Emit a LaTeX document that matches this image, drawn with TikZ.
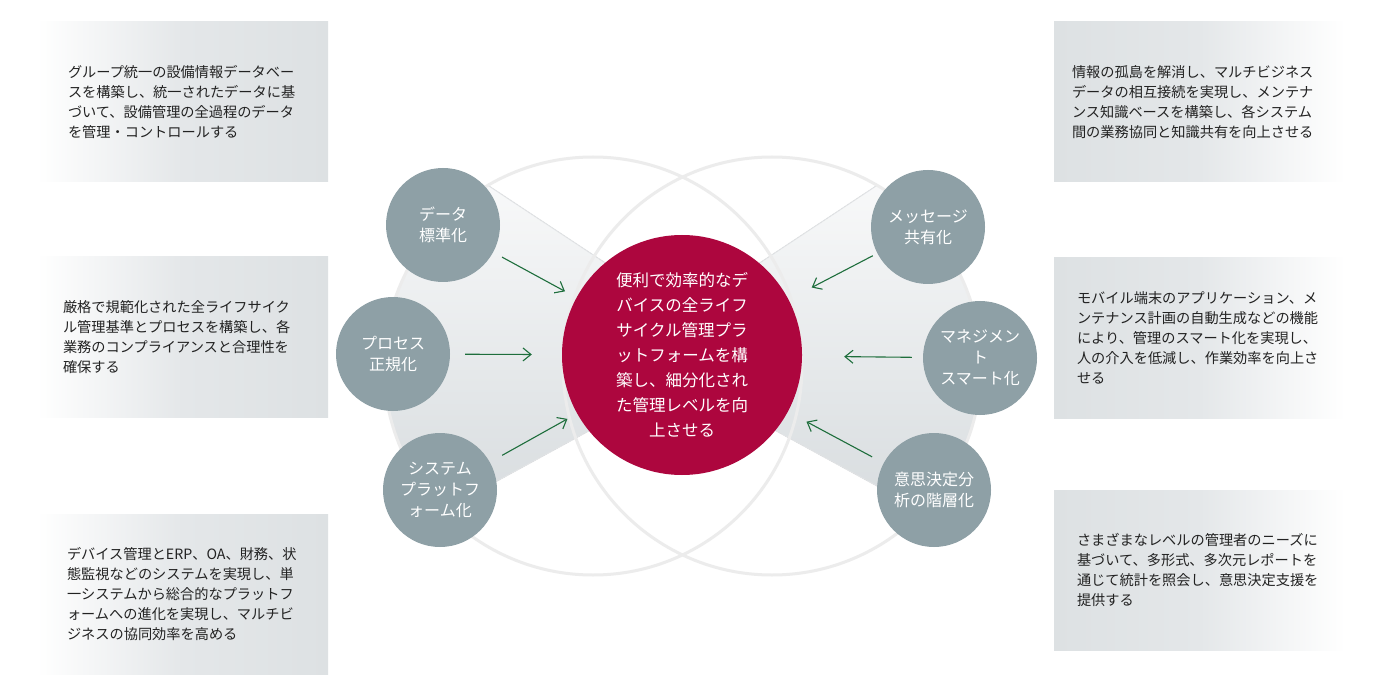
\documentclass[tikz,border=0pt]{standalone}
\usepackage{fontspec}
\setmainfont{Noto Sans CJK JP}
\usetikzlibrary{arrows.meta}
\definecolor{crimson}{RGB}{173,6,62}
\definecolor{circgray}{RGB}{142,160,166}
\definecolor{ringgray}{RGB}{236,236,236}
\definecolor{arrowgreen}{RGB}{30,110,60}
\definecolor{boxgray}{RGB}{221,225,227}
\definecolor{boxmid}{RGB}{228,231,233}
\definecolor{fanbottom}{RGB}{212,217,220}
\definecolor{fanedge}{RGB}{226,228,230}
\definecolor{textdark}{RGB}{34,34,34}
\begin{document}
\begin{tikzpicture}[x=1pt,y=-1pt,
  boxL/.style={rectangle, minimum width=291pt, minimum height=160pt, inner sep=0pt,
    left color=white, right color=boxgray, middle color=boxmid},
  boxR/.style={rectangle, minimum width=291pt, minimum height=160pt, inner sep=0pt,
    left color=boxgray, right color=white, middle color=boxmid},
  boxtext/.style={anchor=west, inner sep=0pt, align=left, text=textdark,
    font=\fontsize{14.2}{20}\selectfont},
  smallc/.style={circle, fill=circgray, minimum size=114pt, inner sep=0pt,
    align=center, text=white, font=\fontsize{16}{21}\selectfont},
  bigc/.style={circle, fill=crimson, minimum size=240pt, inner sep=0pt,
    align=center, text=white, font=\fontsize{16.5}{25}\selectfont},
  ring/.style={draw=ringgray, line width=3pt},
  arr/.style={draw=arrowgreen, line width=1.1pt, -{Straight Barb[length=8pt,width=13pt]}}
]
\useasboundingbox (0,0) rectangle (1380,700);
\fill[white] (0,0) rectangle (1380,700);

% fans
\begin{scope}
  \clip (593,366) circle (209);
  \fill[top color=white, bottom color=fanbottom] (737,350) -- (380,114) -- (380,545) -- cycle;
  \draw[fanedge, line width=1pt] (737,350) -- (380,114);
  \draw[fanedge, line width=1pt] (737,350) -- (380,545);
\end{scope}
\begin{scope}
  \clip (772,366) circle (209);
  \fill[top color=white, bottom color=fanbottom] (628,350) -- (985,114) -- (985,545) -- cycle;
  \draw[fanedge, line width=1pt] (628,350) -- (985,114);
  \draw[fanedge, line width=1pt] (628,350) -- (985,545);
\end{scope}

% rings
\draw[ring] (593,366) circle (209);
\draw[ring] (772,366) circle (209);

% circles
\node[bigc] (c) at (682,355) {便利で効率的なデ\\バイスの全ライフ\\サイクル管理プラ\\ットフォームを構\\築し、細分化され\\た管理レベルを向\\上させる};
\node[smallc] (d) at (443,225) {データ\\標準化};
\node[smallc] (p) at (393,354) {プロセス\\正規化};
\node[smallc] (s) at (440,490) {システム\\プラットフ\\ォーム化};
\node[smallc] (m) at (928,227) {メッセージ\\共有化};
\node[smallc] (g) at (980,358) {マネジメン\\ト\\スマート化};
\node[smallc] (k) at (934,490) {意思決定分\\析の階層化};

% arrows
\draw[arr, shorten <=10pt, shorten >=13pt] (d) -- (c);
\draw[arr, shorten <=15pt, shorten >=30pt] (p) -- (c);
\draw[arr, shorten <=14pt, shorten >=11pt] (s) -- (c);
\draw[arr, shorten <=5pt, shorten >=26pt] (m) -- (c);
\draw[arr, shorten <=11pt, shorten >=42pt] (g) -- (c);
\draw[arr, shorten <=13pt, shorten >=21pt] (k) -- (c);

% boxes
\node[boxL] (b1) at (182.5,102) {};
\node[boxL] (b2) at (182.5,337) {};
\node[boxL] (b3) at (182.5,594) {};
\node[boxR] (b4) at (1199.5,102) {};
\node[boxR] (b5) at (1199.5,338) {};
\node[boxR] (b6) at (1199.5,570) {};

\node[boxtext] (t1) at ([xshift=31pt]b1.west) {グループ統一の設備情報データベー\\スを構築し、統一されたデータに基\\づいて、設備管理の全過程のデータ\\を管理・コントロールする};
\node[boxtext] (t2) at ([xshift=26pt]b2.west) {厳格で規範化された全ライフサイク\\ル管理基準とプロセスを構築し、各\\業務のコンプライアンスと合理性を\\確保する};
\node[boxtext] (t3) at ([xshift=30pt]b3.west) {デバイス管理とERP、OA、財務、状\\態監視などのシステムを実現し、単\\一システムから総合的なプラットフ\\ォームへの進化を実現し、マルチビ\\ジネスの協同効率を高める};
\node[boxtext] (t4) at ([xshift=18pt]b4.west) {情報の孤島を解消し、マルチビジネス\\データの相互接続を実現し、メンテナ\\ンス知識ベースを構築し、各システム\\間の業務協同と知識共有を向上させる};
\node[boxtext] (t5) at ([xshift=23pt]b5.west) {モバイル端末のアプリケーション、メ\\ンテナンス計画の自動生成などの機能\\により、管理のスマート化を実現し、\\人の介入を低減し、作業効率を向上さ\\せる};
\node[boxtext] (t6) at ([xshift=23pt]b6.west) {さまざまなレベルの管理者のニーズに\\基づいて、多形式、多次元レポートを\\通じて統計を照会し、意思決定支援を\\提供する};
\end{tikzpicture}
\end{document}
